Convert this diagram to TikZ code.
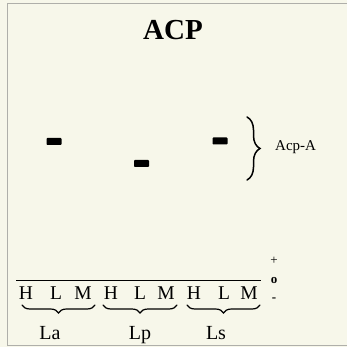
\documentclass[tikz,border=0pt]{standalone}
\usepackage{fontspec}
\setmainfont{Liberation Serif}
\usetikzlibrary{decorations.pathreplacing}
\definecolor{paper}{RGB}{247,247,234}
\definecolor{framegray}{RGB}{175,175,170}
\begin{document}
\begin{tikzpicture}[x=1pt,y=1pt,
  band/.style={fill=black, draw=none, minimum width=15pt, minimum height=7pt, inner sep=0pt, rounded corners=0.8pt},
  lane/.style={font=\fontsize{19.5}{19.5}\selectfont, anchor=base, inner sep=0pt},
  grp/.style={font=\fontsize{20}{20}\selectfont, anchor=base, inner sep=0pt},
  pol/.style={font=\fontsize{13}{13}\selectfont, anchor=base, inner sep=0pt},
  brc/.style={decorate, line width=1.2pt, line cap=round}]
\fill[paper] (0,0) rectangle (347,-347);
\useasboundingbox (0,0) rectangle (347,-347);
% frame
\draw[framegray, line width=1pt] (7,-346) -- (7,-4) -- (347,-4);
\draw[framegray, line width=1pt] (7,-345) -- (347,-345);
% title
\node[font=\bfseries\fontsize{29}{29}\selectfont, anchor=base, inner sep=0pt] (title) at (173,-40) {ACP};
% bands
\node[band] (b1) at (54,-141.5) {};
\node[band] (b2) at (141.5,-163.5) {};
\node[band] (b3) at (220,-141) {};
% big brace and label
\coordinate (bt) at (247,-117);
\coordinate (bb) at (247,-180);
\draw[brc, line width=1.5pt, decoration={brace, amplitude=13pt}] (bt) -- (bb);
\node[font=\fontsize{15}{15}\selectfont, anchor=west, inner sep=0pt] (acpa) at (275,-147) {Acp-A};
% baseline
\coordinate (l0) at (16,-280);
\coordinate (l1) at (261,-280);
\draw[line width=1pt] (l0) -- (l1);
% polarity
\node[pol] (plus) at (274,-264) {+};
\node[pol, font=\bfseries\fontsize{13}{13}\selectfont] (zero) at (274,-283) {o};
\node[pol, font=\bfseries\fontsize{13}{13}\selectfont] (minus) at (274,-301) {-};
% lane letters
\node[lane] (h1) at (26,-299) {H};
\node[lane] (la1) at (56,-299) {L};
\node[lane] (m1) at (83,-299) {M};
\node[lane] (h2) at (111,-299) {H};
\node[lane] (la2) at (140,-299) {L};
\node[lane] (m2) at (166,-299) {M};
\node[lane] (h3) at (194,-299) {H};
\node[lane] (la3) at (224,-299) {L};
\node[lane] (m3) at (249,-299) {M};
% group braces
\coordinate (g1a) at (22,-305); \coordinate (g1b) at (95,-305);
\coordinate (g2a) at (103,-305); \coordinate (g2b) at (177,-305);
\coordinate (g3a) at (187,-305); \coordinate (g3b) at (260,-305);
\draw[brc, decoration={brace, mirror, amplitude=8pt}] (g1a) -- (g1b);
\draw[brc, decoration={brace, mirror, amplitude=8pt}] (g2a) -- (g2b);
\draw[brc, decoration={brace, mirror, amplitude=8pt}] (g3a) -- (g3b);
\node[grp] (La) at (50,-339) {La};
\node[grp] (Lp) at (140,-339) {Lp};
\node[grp] (Ls) at (216,-339) {Ls};
\end{tikzpicture}
\end{document}
